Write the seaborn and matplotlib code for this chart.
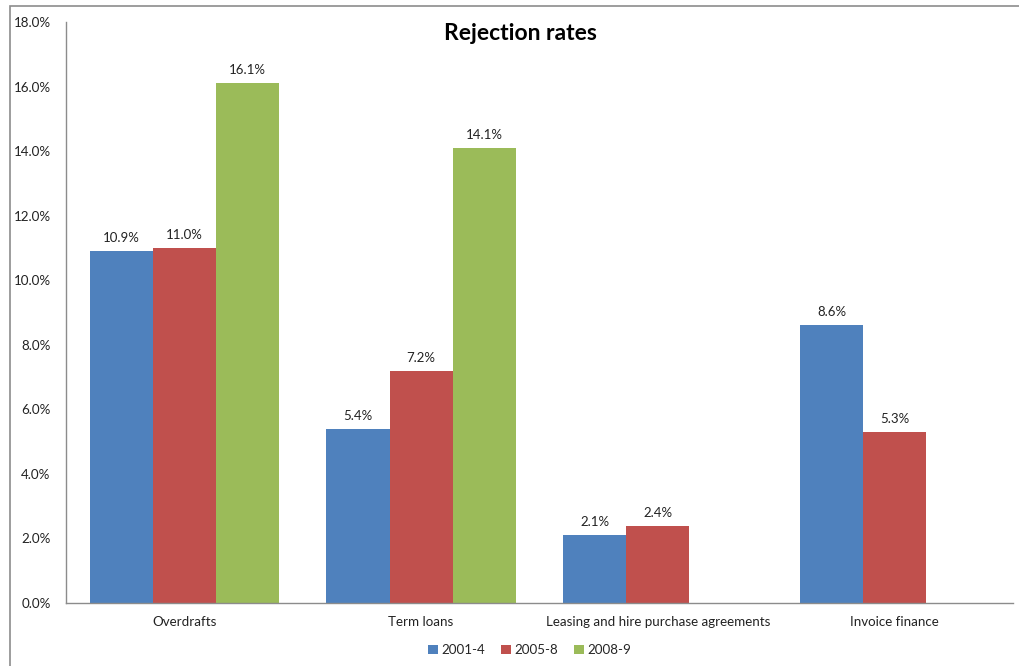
import numpy as np
import pandas as pd
import matplotlib
matplotlib.use("Agg")
import matplotlib.pyplot as plt
from matplotlib.patches import Rectangle
from matplotlib.ticker import FuncFormatter
import seaborn as sns

categories = ["Overdrafts", "Term loans", "Leasing and hire purchase agreements", "Invoice finance"]
periods = ["2001-4", "2005-8", "2008-9"]
rates_2001_4 = [10.9, 5.4, 2.1, 8.6]
rates_2005_8 = [11.0, 7.2, 2.4, 5.3]
rates_2008_9 = [16.1, 14.1, np.nan, np.nan]
colors = ["#4F81BD", "#C0504D", "#9BBB59"]

rows = []
for period, vals in zip(periods, [rates_2001_4, rates_2005_8, rates_2008_9]):
    for cat, v in zip(categories, vals):
        rows.append({"category": cat, "period": period, "rate": v})
df = pd.DataFrame(rows)

sns.set_theme(style="white")
plt.rcParams["font.family"] = ["Lato", "DejaVu Sans"]

fig = plt.figure(figsize=(10.2, 6.66), dpi=100)
ax = fig.add_axes([66 / 1020, 1 - 603 / 666, (1013 - 66) / 1020, (603 - 22) / 666])

sns.barplot(data=df, x="category", y="rate", hue="period", hue_order=periods,
            palette=colors, width=0.8, ax=ax, saturation=1, errorbar=None,
            edgecolor="none", linewidth=0)

for container in ax.containers:
    labels = ["" if np.isnan(b.get_height()) else f"{b.get_height():.1f}%" for b in container]
    ax.bar_label(container, labels=labels, padding=5, fontsize=9.5, color="#222222")

ax.set_ylim(0, 18)
ax.set_xlim(-0.5, 3.5)
ax.set_yticks(np.arange(0, 18.1, 2))
ax.yaxis.set_major_formatter(FuncFormatter(lambda v, p: f"{v:.1f}%"))
ax.tick_params(axis="y", labelsize=9.6, pad=11, length=0, colors="#222222")
ax.tick_params(axis="x", labelsize=9.6, pad=9, length=0, colors="#222222")
ax.set_xlabel("")
ax.set_ylabel("")
for side in ["top", "right"]:
    ax.spines[side].set_visible(False)
for side in ["left", "bottom"]:
    ax.spines[side].set_color("#8c8c8c")
    ax.spines[side].set_linewidth(1.0)
ax.grid(False)

handles, labels = ax.get_legend_handles_labels()
ax.legend_.remove()
fig.legend(handles, labels, loc="center", bbox_to_anchor=(530 / 1020, 1 - 650 / 666),
           ncol=3, frameon=False, fontsize=9.6, handlelength=0.7, handleheight=0.7,
           handletextpad=0.3, columnspacing=1.2)

fig.text(520 / 1020, 1 - 33 / 666, "Rejection rates", ha="center", va="center",
         fontsize=16.5, fontweight="bold", color="#000000")

# outer chart frame
fig.patches.append(Rectangle((10 / 1020, -0.1), 1.2, 1 - 6 / 666 + 0.1,
                             transform=fig.transFigure, fill=False,
                             edgecolor="#8c8c8c", linewidth=1.2))

fig.savefig("out.png", dpi=100, facecolor="white")
